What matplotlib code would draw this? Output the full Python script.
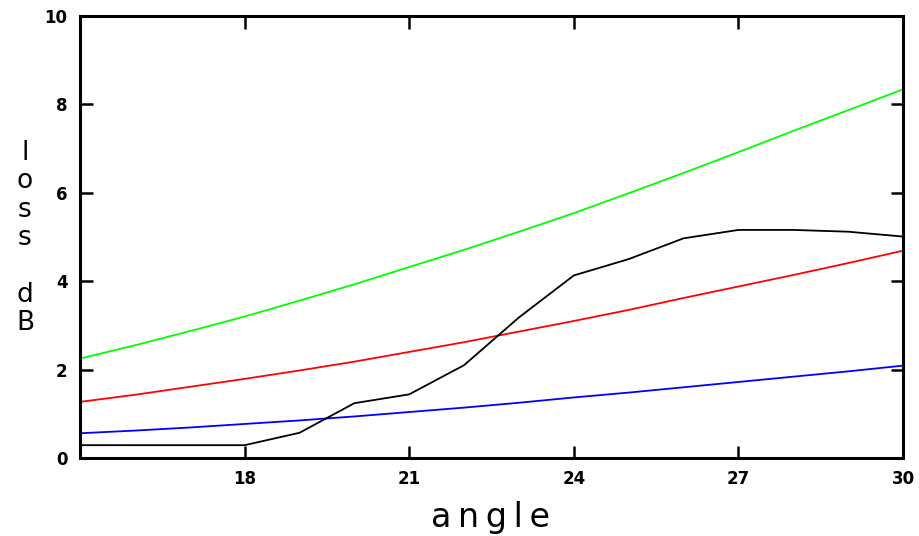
import matplotlib
matplotlib.use("Agg")
import matplotlib.pyplot as plt

angle = [15, 16, 17, 18, 19, 20, 21, 22, 23, 24, 25, 26, 27, 28, 29, 30]
measured = [0.29, 0.29, 0.29, 0.29, 0.57, 1.24, 1.44, 2.10, 3.18, 4.13, 4.50, 4.97, 5.16, 5.16, 5.12, 5.01]
green = [2.25, 2.55, 2.87, 3.20, 3.56, 3.93, 4.32, 4.71, 5.12, 5.54, 5.99, 6.45, 6.92, 7.40, 7.87, 8.34]
red = [1.27, 1.43, 1.61, 1.79, 1.98, 2.18, 2.40, 2.62, 2.86, 3.10, 3.35, 3.62, 3.88, 4.14, 4.41, 4.69]
blue = [0.56, 0.62, 0.69, 0.77, 0.85, 0.94, 1.04, 1.14, 1.25, 1.37, 1.48, 1.60, 1.72, 1.84, 1.96, 2.09]

xticks = [18, 21, 24, 27, 30]
yticks = [0, 2, 4, 6, 8, 10]

fig = plt.figure(figsize=(9.2, 5.36), dpi=100)
ax = fig.add_axes([80/920, 78/536, 823/920, 442/536])

ax.plot(angle, green, color="#00ff00", lw=1.3)
ax.plot(angle, red, color="#ff0000", lw=1.3)
ax.plot(angle, blue, color="#0000ff", lw=1.3)
ax.plot(angle, measured, color="black", lw=1.3)

ax.set_xlim(15, 30)
ax.set_ylim(0, 10)
ax.set_xticks(xticks)
ax.set_yticks(yticks)
ax.set_xticklabels([str(t) for t in xticks], fontsize=12, fontweight="bold")
ax.set_yticklabels([str(t) for t in yticks], fontsize=12, fontweight="bold")
ax.tick_params(direction="in", length=9, width=1.8, top=True, right=True, pad=9)
ax.tick_params(axis="x", pad=9)
for s in ax.spines.values():
    s.set_linewidth(2.2)

fig.text(491/920, 1 - 518/536, "a\u2009n\u2009g\u2009l\u2009e", fontsize=24, ha="center", va="center")
fig.text(25/920, 1 - 238/536, "l\no\ns\ns\n\nd\nB", fontsize=19, ha="center", va="center", linespacing=1.12)

fig.savefig("out.png", dpi=100)
